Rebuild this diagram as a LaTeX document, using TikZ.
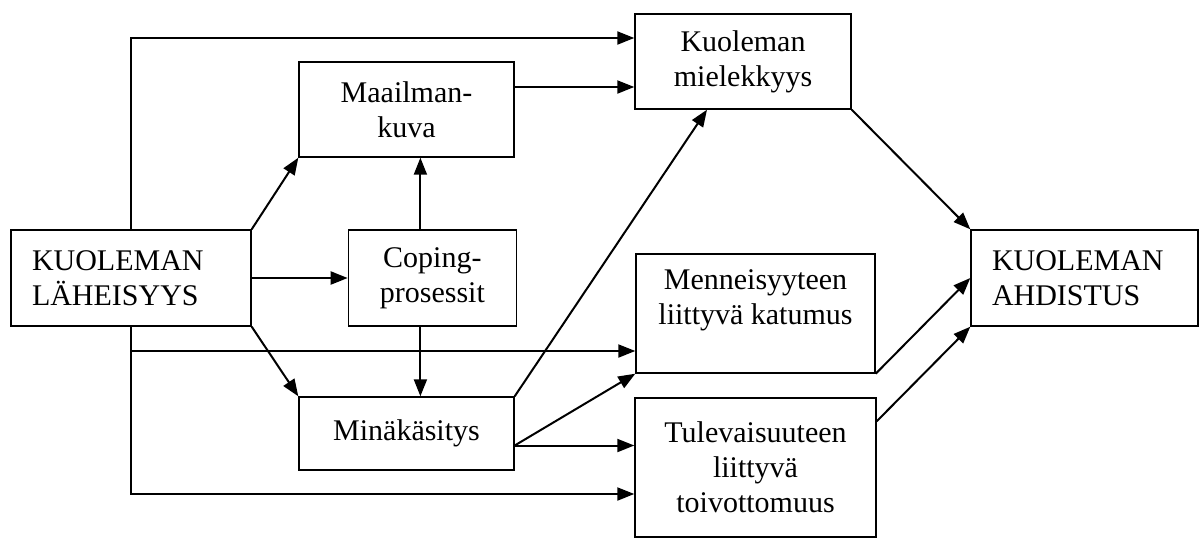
\documentclass[tikz,border=0pt]{standalone}
\usepackage{fontspec}
\setmainfont{Liberation Serif}
\usetikzlibrary{arrows.meta,positioning}

\begin{document}
\begin{tikzpicture}[>={Triangle[length=17pt,width=13pt]},x=1pt,y=-1pt]
  \tikzstyle{box}=[draw,line width=1.4pt,inner sep=0pt,align=center,font=\fontsize{30pt}{35pt}\selectfont]
  \tikzstyle{arr}=[->,line width=2pt]
  \useasboundingbox (0,0) rectangle (1202,539);
  \node[box,minimum width=240pt,minimum height=96pt,text width=198pt,align=left] (lah) at (131,278) {KUOLEMAN\\LÄHEISYYS};
  \node[box,minimum width=168pt,minimum height=96pt,right=96pt of lah] (cope) {Coping-\\prosessit};
  \node[box,minimum width=215pt,minimum height=95pt] (maail) at (406.5,109.5) {Maailman-\\kuva};
  \node[box,minimum width=215pt,minimum height=73pt] (mina) at (406.5,433.5) {Minäkäsitys};
  \node[box,minimum width=216pt,minimum height=95pt] (mielek) at (743,61.5) {Kuoleman\\mielekkyys};
  \node[box,minimum width=239pt,minimum height=119pt,text depth=32pt] (katum) at (755.5,313.5) {Menneisyyteen\\liittyvä katumus};
  \node[box,minimum width=241pt,minimum height=139pt] (toivo) at (755.5,467.5) {Tulevaisuuteen\\liittyvä\\toivottomuus};
  \node[box,minimum width=227pt,minimum height=96pt,text width=185pt,align=left] (ahd) at (1084.5,278) {KUOLEMAN\\AHDISTUS};
  % vasemmalta
  \draw[arr] (lah.north) |- ([yshift=23.5pt]mielek.west);
  \draw[arr] (lah.north east) -- (maail.south west);
  \draw[arr] (lah.east) -- (cope.west);
  \draw[arr] (lah.south east) -- (mina.north west);
  \draw[arr] (lah.south) |- ([yshift=-37.5pt]katum.west);
  \draw[arr] (lah.south) |- ([yshift=-26.5pt]toivo.west);
  % keskelta
  \coordinate (mk) at ([yshift=22.5pt]maail.east);
  \draw[arr] (mk) -- (mk -| mielek.west);
  \coordinate (cpn) at ([xshift=-12pt]cope.north);
  \coordinate (cps) at ([xshift=-12pt]cope.south);
  \draw[arr] (cpn) -- (cpn |- maail.south);
  \draw[arr] (cps) -- (cps |- mina.north);
  \draw[arr] (mina.north east) -- ([xshift=-36pt]mielek.south);
  \coordinate (mo) at ([yshift=-12pt]mina.east);
  \draw[arr] (mo) -- (katum.south west);
  \draw[arr] (mo) -- (mo -| toivo.west);
  % oikealle
  \draw[arr] (mielek.south east) -- (ahd.north west);
  \draw[arr] (katum.south east) -- (ahd.west);
  \draw[arr] ([yshift=-24pt]toivo.north east) -- (ahd.south west);
\end{tikzpicture}
\end{document}
